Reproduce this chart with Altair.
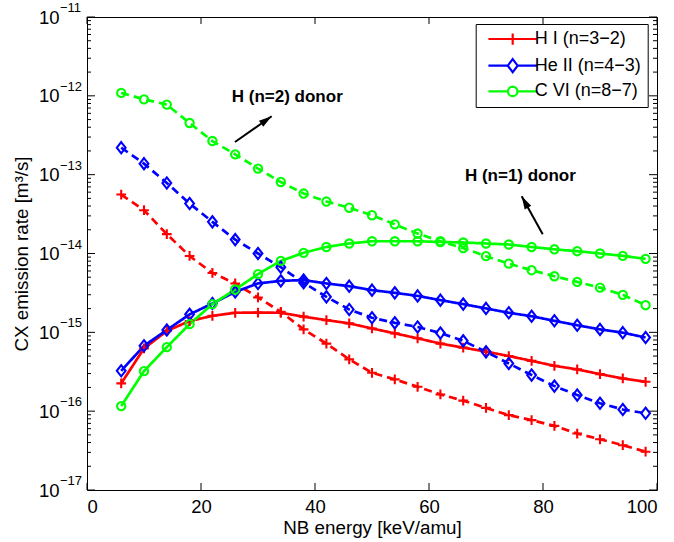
import math
import altair as alt
import pandas as pd

# ---------------- data ----------------
energy = [6, 10, 14, 18, 22, 26, 30, 34, 38, 42, 46, 50,
          54, 58, 62, 66, 70, 74, 78, 82, 86, 90, 94, 98]

species = ["H I (n=3−2)", "He II (n=4−3)", "C VI (n=8−7)"]
colors = ["#ff0000", "#0000ff", "#00ff00"]
donors = ["n=1", "n=2"]

hI_n1 = [2.25e-16, 6.25e-16, 1.04e-15, 1.39e-15, 1.62e-15, 1.77e-15, 1.78e-15, 1.77e-15,
         1.58e-15, 1.43e-15, 1.30e-15, 1.12e-15, 9.7e-16, 8.4e-16, 7.2e-16, 6.4e-16,
         5.7e-16, 5.0e-16, 4.35e-16, 3.76e-16, 3.39e-16, 2.95e-16, 2.6e-16, 2.36e-16]
hI_n2 = [5.6e-14, 3.54e-14, 1.76e-14, 9.3e-15, 5.67e-15, 4.17e-15, 2.77e-15, 1.82e-15,
         1.09e-15, 7.2e-16, 4.54e-16, 3.07e-16, 2.53e-16, 2.04e-16, 1.63e-16, 1.36e-16,
         1.1e-16, 8.9e-17, 7.7e-17, 6.5e-17, 5.2e-17, 4.4e-17, 3.7e-17, 3.06e-17]
heII_n1 = [3.25e-16, 6.75e-16, 1.07e-15, 1.69e-15, 2.32e-15, 3.26e-15, 4.17e-15, 4.5e-15,
           4.6e-15, 4.17e-15, 3.85e-15, 3.43e-15, 3.17e-15, 2.9e-15, 2.56e-15, 2.28e-15,
           2.01e-15, 1.77e-15, 1.6e-15, 1.4e-15, 1.23e-15, 1.09e-15, 9.9e-16, 8.6e-16]
heII_n2 = [2.2e-13, 1.38e-13, 7.85e-14, 4.3e-14, 2.52e-14, 1.5e-14, 1.0e-14, 6.7e-15,
           4.25e-15, 2.82e-15, 1.95e-15, 1.53e-15, 1.32e-15, 1.17e-15, 9.8e-16, 7.8e-16,
           5.66e-16, 4.03e-16, 2.87e-16, 2.08e-16, 1.6e-16, 1.26e-16, 1.05e-16, 9.4e-17]
cVI_n1 = [1.16e-16, 3.22e-16, 6.49e-16, 1.27e-15, 2.28e-15, 3.49e-15, 5.47e-15, 8.05e-15,
          1.02e-14, 1.21e-14, 1.34e-14, 1.43e-14, 1.43e-14, 1.43e-14, 1.40e-14, 1.38e-14,
          1.34e-14, 1.30e-14, 1.21e-14, 1.13e-14, 1.07e-14, 1.0e-14, 9.33e-15, 8.55e-15]
cVI_n2 = [1.09e-12, 9.03e-13, 7.74e-13, 4.52e-13, 2.67e-13, 1.81e-13, 1.195e-13, 8.08e-14,
          5.76e-14, 4.56e-14, 3.81e-14, 3.06e-14, 2.34e-14, 1.79e-14, 1.43e-14, 1.17e-14,
          9.25e-15, 7.43e-15, 6.14e-15, 5.15e-15, 4.36e-15, 3.69e-15, 2.99e-15, 2.21e-15]

x_ticks = [0, 20, 40, 60, 80, 100]
y_decades = [1e-17, 1e-16, 1e-15, 1e-14, 1e-13, 1e-12, 1e-11]
y_exponents = ["−17", "−16", "−15", "−14", "−13", "−12", "−11"]
y_minor = [k * 10.0 ** e for e in range(-17, -11) for k in range(2, 10)]

notes = ["H (n=2) donor", "H (n=1) donor"]
note_x = [25.4, 66.3]
note_y = [9.57e-13, 9.68e-14]
arrow_x = [25.96, 79.95]      # tail
arrow_y = [2.6e-13, 1.76e-14]
arrow_x2 = [32.4, 76.26]      # tip
arrow_y2 = [5.5e-13, 5.32e-14]

# ---------------- tables ----------------
rows = []
for sp, dn, vals in [(species[0], donors[0], hI_n1), (species[0], donors[1], hI_n2),
                     (species[1], donors[0], heII_n1), (species[1], donors[1], heII_n2),
                     (species[2], donors[0], cVI_n1), (species[2], donors[1], cVI_n2)]:
    for e, v in zip(energy, vals):
        rows.append({"species": sp, "donor": dn, "energy": e, "rate": v})
df = pd.DataFrame(rows)
df_leg = df[df["energy"] == energy[0]].drop_duplicates("species")

W, H = 570, 473
XMIN, XMAX = 0, 100
YMIN, YMAX = 1e-17, 1e-11


def px(x):
    return (x - XMIN) / (XMAX - XMIN) * W


def py(y):
    return (math.log10(YMAX) - math.log10(y)) / (math.log10(YMAX) - math.log10(YMIN)) * H


angles = []
for a, b, c, d in zip(arrow_x, arrow_y, arrow_x2, arrow_y2):
    dx = px(c) - px(a)
    dy = py(d) - py(b)
    angles.append(math.degrees(math.atan2(dx, -dy)) % 360)

arrows = pd.DataFrame({"energy": arrow_x, "rate": arrow_y, "x2": arrow_x2, "y2": arrow_y2,
                       "angle": angles})
notes_df = pd.DataFrame({"text": notes, "energy": note_x, "rate": note_y})
ydec_df = pd.DataFrame({"rate": y_decades, "e": y_exponents})
ymin_df = pd.DataFrame({"rate": y_minor})
xt_df = pd.DataFrame({"energy": x_ticks})

# ---------------- scales / axes ----------------
FONT = "Liberation Sans"
xscale = alt.Scale(domain=[XMIN, XMAX], nice=False, zero=False)
yscale = alt.Scale(type="log", domain=[YMIN, YMAX], nice=False)

xaxis = alt.Axis(values=x_ticks, ticks=False, tickSize=0, domain=False, grid=False,
                 labelPadding=7, labelFontSize=18.5, title="NB energy [keV/amu]",
                 titleY=43, titleBaseline="alphabetic")
yaxis = alt.Axis(values=y_decades, labelExpr="'10'", ticks=False, tickSize=0,
                 domain=False, grid=False, labelPadding=28, labelFontSize=18.5,
                 title="CX emission rate [m³/s]", titleX=-66, titleY=H / 2,
                 titleBaseline="middle", titleAlign="center", titleAngle=270)

X = alt.X("energy:Q", scale=xscale, axis=xaxis, title="NB energy [keV/amu]")
Y = alt.Y("rate:Q", scale=yscale, axis=yaxis, title="CX emission rate [m³/s]")

color_nl = alt.Color("species:N", scale=alt.Scale(domain=species, range=colors), legend=None)

plus = "M-1,0L1,0M0,-1L0,1"
diamond = "M0,-1.15L0.9,0L0,1.15L-0.9,0Z"
circle = "M0.85,0A0.85,0.85 0 1,1 -0.85,0A0.85,0.85 0 1,1 0.85,0Z"
leg_plus = "M-5.4,0L5.4,0M0,-1.25L0,1.25"
leg_diamond = "M-5.4,0L-1.1,0M1.1,0L5.4,0M0,-1.45L1.1,0L0,1.45L-1.1,0Z"
leg_circle = ("M-5.4,0L-1.05,0M1.05,0L5.4,0M1.05,0A1.05,1.05 0 1,1 -1.05,0"
              "A1.05,1.05 0 1,1 1.05,0Z")

lines = alt.Chart(df).mark_line(strokeWidth=2.7).encode(
    x=X, y=Y, color=color_nl,
    strokeDash=alt.StrokeDash("donor:N", scale=alt.Scale(domain=donors, range=[[1, 0], [8, 5]]),
                              legend=None),
)

points = alt.Chart(df).mark_point(filled=False, size=95, strokeWidth=2.1, opacity=1).encode(
    x=X, y=Y, color=color_nl,
    shape=alt.Shape("species:N", scale=alt.Scale(domain=species, range=[plus, diamond, circle]),
                    legend=None),
)

legend_layer = alt.Chart(df_leg).mark_point(filled=False, size=81, strokeWidth=2.2, opacity=0).encode(
    x=X, y=Y,
    color=alt.Color("species:N", scale=alt.Scale(domain=species, range=colors),
                    legend=alt.Legend(title=None)),
    shape=alt.Shape("species:N",
                    scale=alt.Scale(domain=species, range=[leg_plus, leg_diamond, leg_circle]),
                    legend=alt.Legend(title=None)),
)


def yrule(data, x0, x1):
    return alt.Chart(data).mark_rule(color="black", strokeWidth=1).encode(
        y=Y, x=alt.value(x0), x2=alt.value(x1))


def xrule(y0, y1):
    return alt.Chart(xt_df).mark_rule(color="black", strokeWidth=1).encode(
        x=X, y=alt.value(y0), y2=alt.value(y1))


ticks = [yrule(ydec_df, 0, 8), yrule(ydec_df, W - 8, W),
         yrule(ymin_df, 0, 4), yrule(ymin_df, W - 4, W),
         xrule(H, H - 7), xrule(0, 7)]

exps = alt.Chart(ydec_df).mark_text(align="left", baseline="middle", dy=-9, fontSize=13,
                                    font=FONT, color="black").encode(
    y=Y, x=alt.value(-27), text="e:N")

arrow_lines = alt.Chart(arrows).mark_rule(color="black", strokeWidth=2).encode(
    x=X, y=Y, x2="x2:Q", y2="y2:Q")
arrow_heads = alt.Chart(arrows).mark_point(
    shape="M0,0L0.55,1.9L-0.55,1.9Z", filled=True, size=185, color="black", opacity=1,
    strokeWidth=0).encode(
    x=alt.X("x2:Q", scale=xscale, axis=xaxis, title="NB energy [keV/amu]"),
    y=alt.Y("y2:Q", scale=yscale, axis=yaxis, title="CX emission rate [m³/s]"),
    angle=alt.Angle("angle:Q", scale=None))

texts = alt.Chart(notes_df).mark_text(align="left", baseline="middle", fontSize=17,
                                      fontWeight="bold", font=FONT, color="black").encode(
    x=X, y=Y, text="text:N")

chart = alt.layer(lines, points, legend_layer, *ticks, exps, arrow_lines, arrow_heads, texts).resolve_scale(
    color="independent", shape="independent"
).properties(
    width=W, height=H,
    autosize=alt.AutoSizeParams(type="none"),
    padding={"left": 87, "top": 17, "right": 17, "bottom": 52},
    background="white",
).configure_view(
    stroke="black", strokeWidth=1
).configure_axis(
    labelFont=FONT, titleFont=FONT, labelColor="black", titleColor="black",
    titleFontSize=18.8, titleFontWeight="normal",
).configure_legend(
    orient="none", legendX=388.7, legendY=7, padding=6,
    strokeColor="black", fillColor="white", strokeWidth=1, cornerRadius=0,
    labelFont=FONT, labelFontSize=18, labelColor="black",
    symbolSize=81, symbolStrokeWidth=2.2, symbolOffset=22, labelOffset=13, rowPadding=4.7,
)

chart.save("out.html", embed_options={"renderer": "svg", "actions": False})
